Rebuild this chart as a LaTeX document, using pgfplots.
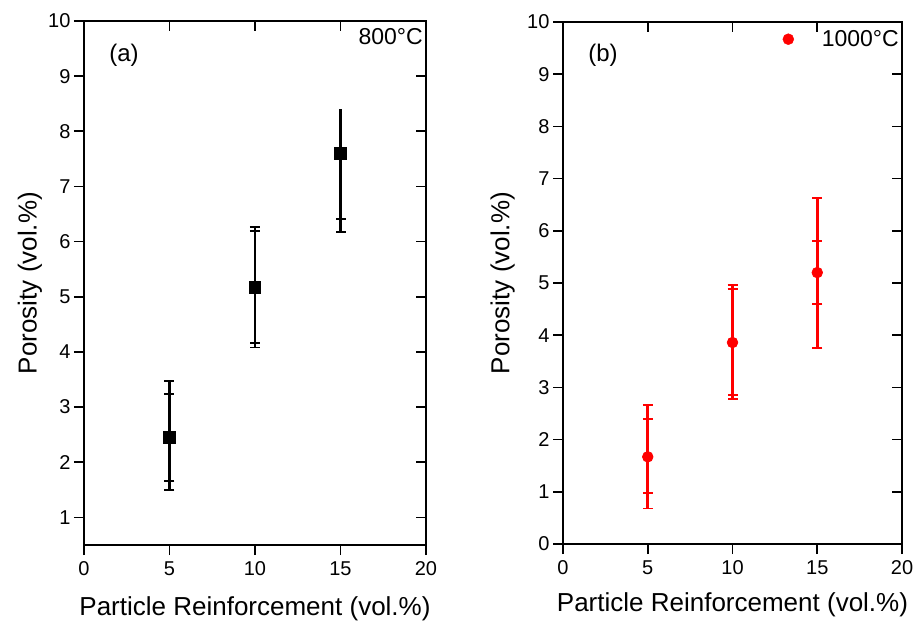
\documentclass[border=0pt]{standalone}
\usepackage{fontspec}
\setmainfont{Liberation Sans}
\usepackage{pgfplots}
\pgfplotsset{compat=1.18}
\pgfplotsset{
  base/.style={scale only axis, width=342pt, xmin=0, xmax=20, xtick={0,5,10,15,20},
    /pgf/number format/assume math mode=true,
    tick label style={font=\fontsize{20}{20}\selectfont},
    xticklabel style={yshift=-3pt},
    label style={font=\fontsize{26}{26}\selectfont},
    axis line style={line width=2pt},
    major tick length=10pt,
    every tick/.style={black, line width=1.7pt}},
  front/.style={base, tick align=outside, xtick pos=left, ytick pos=left},
  back/.style={base, tick align=inside, xtick pos=right, ytick pos=right,
    xticklabels={}, yticklabels={}, axis line style={draw=none}},
  ebar/.style={forget plot, draw=none, line width=2.6pt,
    error bars/y dir=both, error bars/y explicit,
    error bars/error bar style={draw, line width=2.6pt},
    error bars/error mark options={rotate=90, mark size=5pt, line width=1.9pt}},
}
\pgfplotstableread{
x y ep em ip im
5 2.45 1.02 0.96 0.79 0.79
10 5.17 1.09 1.09 1.02 1.00
15 7.60 0.00 1.42 0.00 1.19
}\dataA
\pgfplotstableread{
x y ep em ip im
5 1.67 1.00 0.99 0.72 0.70
10 3.86 1.11 1.08 1.02 1.00
15 5.20 1.43 1.44 0.61 0.61
}\dataB
\begin{document}
\begin{tikzpicture}
\useasboundingbox (-84pt,-80pt) rectangle (835pt,545pt);
% panel (a)
\begin{axis}[back, at={(0pt,0pt)}, anchor=south west, height=524pt, ymin=0.5, ymax=10, ytick={1,...,10}]
\end{axis}
\begin{axis}[front, at={(0pt,0pt)}, anchor=south west, height=524pt, ymin=0.5, ymax=10, ytick={1,...,10},
  xlabel={Particle Reinforcement (vol.\%)}, ylabel={Porosity (vol.\%)},
  xlabel style={at={(axis description cs:0.5,-0.122)}, anchor=center},
  ylabel style={at={(axis description cs:-0.158,0.5)}, anchor=center},
  legend style={at={(rel axis cs:1,0.992)}, anchor=north east, draw=none, fill=none,
    font=\fontsize{23}{23}\selectfont, inner sep=1pt}]
\addplot+[ebar, mark=none, black]
  table[x=x, y=y, y error plus=ip, y error minus=im] {\dataA};
\addplot+[ebar, mark=square*, mark size=5.8pt, black, mark options={draw=black, fill=black, line width=0.8pt}]
  table[x=x, y=y, y error plus=ep, y error minus=em] {\dataA};
\addplot+[forget plot, draw=none, mark=none, black, line width=2.6pt,
  error bars/y dir=plus, error bars/y explicit,
  error bars/error bar style={draw, line width=2.6pt}, error bars/error mark=none]
  coordinates {(15,7.60) +- (0,0.81)};
\addlegendimage{empty legend}
\addlegendentry{800°C}
\node[font=\fontsize{24}{24}\selectfont] at (rel axis cs:0.117,0.935) {(a)};
\end{axis}
% panel (b)
\begin{axis}[back, at={(479pt,1pt)}, anchor=south west, width=339pt, height=522pt, ymin=0, ymax=10, ytick={0,...,10}]
\end{axis}
\begin{axis}[front, at={(479pt,1pt)}, anchor=south west, width=339pt, height=522pt, ymin=0, ymax=10, ytick={0,...,10},
  xlabel={Particle Reinforcement (vol.\%)}, ylabel={Porosity (vol.\%)},
  xlabel style={at={(axis description cs:0.5,-0.117)}, anchor=center},
  ylabel style={at={(axis description cs:-0.178,0.5)}, anchor=center},
  legend style={at={(rel axis cs:1,0.99)}, anchor=north east, draw=none, fill=none,
    font=\fontsize{23}{23}\selectfont, inner sep=1pt}]
\addplot+[ebar, mark=none, red]
  table[x=x, y=y, y error plus=ip, y error minus=im] {\dataB};
\addplot+[ebar, mark=*, mark size=5.3pt, red, mark options={draw=red, fill=red, line width=0.8pt}]
  table[x=x, y=y, y error plus=ep, y error minus=em] {\dataB};
\addlegendimage{only marks, mark=*, mark size=5.5pt, red, mark options={fill=red}}
\addlegendentry{\hspace*{26pt}1000°C}
\node[font=\fontsize{24}{24}\selectfont] at (rel axis cs:0.118,0.937) {(b)};
\end{axis}
\end{tikzpicture}
\end{document}
